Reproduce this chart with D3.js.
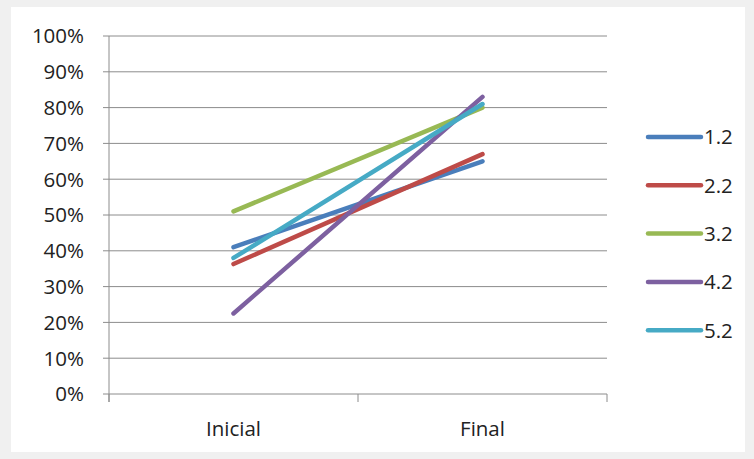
<!DOCTYPE html>
<html>
<head>
<meta charset="utf-8">
<script src="https://cdn.jsdelivr.net/npm/d3@7"></script>
<style>
  html, body { margin: 0; padding: 0; background: #f0f0f0; }
  svg { display: block; }
</style>
</head>
<body>
<svg id="chart" width="754" height="459"></svg>
<script>
// Categories on the x axis
const categories = ["Inicial", "Final"];
// Series names and their values (fractions)
const seriesNames = ["1.2", "2.2", "3.2", "4.2", "5.2"];
const values12 = [0.41, 0.65];
const values22 = [0.363, 0.67];
const values32 = [0.51, 0.80];
const values42 = [0.225, 0.83];
const values52 = [0.38, 0.81];
const seriesColors = ["#4a7ebb", "#be4b48", "#98b954", "#7d60a0", "#46aac5"];
const yTicks = [0, 0.1, 0.2, 0.3, 0.4, 0.5, 0.6, 0.7, 0.8, 0.9, 1.0];

const series = seriesNames.map((name, i) => ({
  name,
  values: [values12, values22, values32, values42, values52][i],
  color: seriesColors[i]
}));

const svg = d3.select("#chart");
const font = "'Open Sans', 'Liberation Sans', sans-serif";
const fontSize = 20.5;

// chart card
svg.append("rect")
  .attr("x", 11).attr("y", 7).attr("width", 734).attr("height", 445)
  .attr("fill", "#ffffff");

const plotLeft = 109, plotRight = 607, plotTop = 36, plotBottom = 394;

const x = d3.scalePoint().domain(categories).range([plotLeft, plotRight]).padding(0.5);
const y = d3.scaleLinear().domain([0, 1]).range([plotBottom, plotTop]);

// horizontal gridlines
svg.append("g")
  .selectAll("line")
  .data(yTicks)
  .join("line")
  .attr("x1", plotLeft - 6).attr("x2", plotRight)
  .attr("y1", d => y(d)).attr("y2", d => y(d))
  .attr("stroke", "#8c8c8c").attr("stroke-width", 1);

// y axis labels
svg.append("g")
  .selectAll("text")
  .data(yTicks)
  .join("text")
  .attr("x", 84)
  .attr("y", d => y(d))
  .attr("dy", "0.36em")
  .attr("text-anchor", "end")
  .attr("font-family", font)
  .attr("font-size", fontSize)
  .attr("fill", "#222")
  .text(d => d3.format(".0%")(d));

// y axis line
svg.append("line")
  .attr("x1", plotLeft).attr("x2", plotLeft)
  .attr("y1", plotTop).attr("y2", plotBottom + 8)
  .attr("stroke", "#8c8c8c");

// x axis tick marks at category boundaries
const step = x.step();
const bounds = [plotLeft, plotLeft + step, plotLeft + 2 * step];
svg.append("g")
  .selectAll("line")
  .data(bounds)
  .join("line")
  .attr("x1", d => d).attr("x2", d => d)
  .attr("y1", plotBottom).attr("y2", plotBottom + 8)
  .attr("stroke", "#8c8c8c");

// x axis labels
svg.append("g")
  .selectAll("text")
  .data(categories)
  .join("text")
  .attr("x", d => x(d))
  .attr("y", 436)
  .attr("text-anchor", "middle")
  .attr("font-family", font)
  .attr("font-size", fontSize)
  .attr("fill", "#222")
  .text(d => d);

// series lines
const line = d3.line()
  .x((d, i) => x(categories[i]))
  .y(d => y(d));

svg.append("g")
  .selectAll("path")
  .data(series)
  .join("path")
  .attr("d", d => line(d.values))
  .attr("fill", "none")
  .attr("stroke", d => d.color)
  .attr("stroke-width", 4.5)
  .attr("stroke-linecap", "round");

// legend
const legend = svg.append("g")
  .selectAll("g")
  .data(series)
  .join("g")
  .attr("transform", (d, i) => `translate(648, ${137 + i * 48.3})`);

legend.append("line")
  .attr("x1", 0).attr("x2", 53)
  .attr("stroke", d => d.color)
  .attr("stroke-width", 4.5)
  .attr("stroke-linecap", "round");

legend.append("text")
  .attr("x", 56)
  .attr("dy", "0.36em")
  .attr("font-family", font)
  .attr("font-size", fontSize)
  .attr("fill", "#222")
  .text(d => d.name);
</script>
</body>
</html>
